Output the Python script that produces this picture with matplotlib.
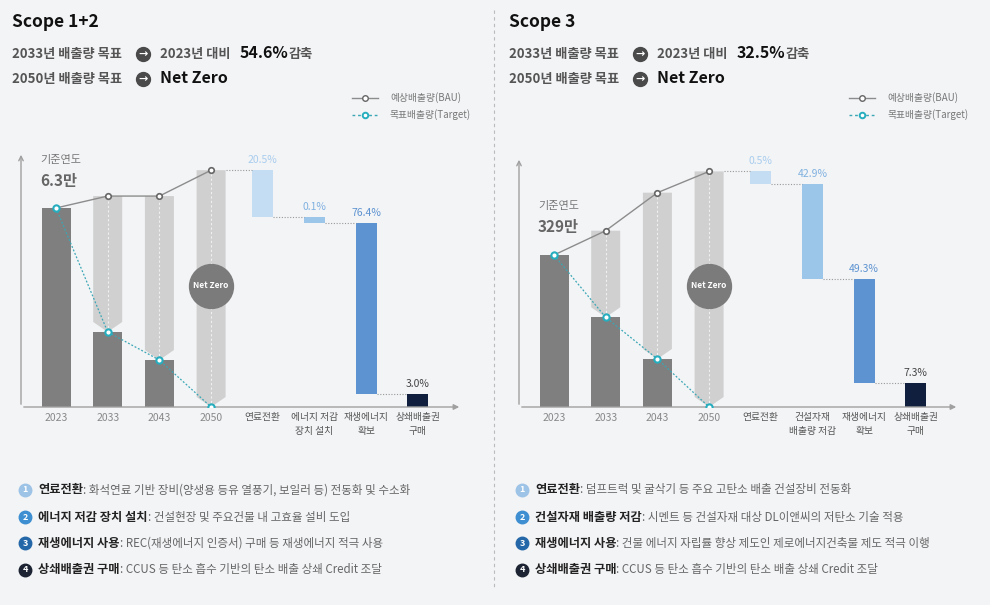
import matplotlib
matplotlib.use("Agg")
import matplotlib.pyplot as plt
from matplotlib.patches import Polygon, Rectangle
from matplotlib.lines import Line2D

FONT = ['Noto Sans CJK KR', 'DejaVu Sans']
plt.rcParams['font.family'] = FONT
BG = '#f3f4f6'

years = ['2023', '2033', '2043', '2050']
# panel 1 (index, base 2023 = 100)
p1_bau = [100, 106, 106, 119]
p1_target = [100, 37.7, 23.6, 0]
p1_steps = [95.5, 92.5, 6.5, 0]          # level after each reduction step
p1_step_labels = ['20.5%', '0.1%', '76.4%', '3.0%']
p1_cats = ['연료전환', '에너지 저감\n장치 설치', '재생에너지\n확보', '상쇄배출권\n구매']
# panel 2
p2_bau = [100, 116, 141, 155]
p2_target = [100, 59, 31.6, 0]
p2_steps = [147, 84, 16, 0]
p2_step_labels = ['0.5%', '42.9%', '49.3%', '7.3%']
p2_cats = ['연료전환', '건설자재\n배출량 저감', '재생에너지\n확보', '상쇄배출권\n구매']

step_colors = ['#c5ddf2', '#9cc5ea', '#5d93d1', '#0f1f3d']
label_colors = ['#a9cdee', '#7fb1e0', '#5d93d1', '#444444']

W, H = 990, 605
fig = plt.figure(figsize=(9.9, 6.05), dpi=100, facecolor=BG)

def fx(px): return px / W
def fy(py): return 1 - py / H

def panel(x0, x1, pxunit, ytop_px, base_px, x2023_px, bau, target, steps, slabels, cats, base_txt, base_y):
    ymax = (base_px - ytop_px) / pxunit
    sp = 51.7
    xl = (x0 - x2023_px) / sp
    xr = (x1 - x2023_px) / sp
    ax = fig.add_axes([fx(x0), fy(base_px), (x1 - x0) / W, (base_px - ytop_px) / H])
    ax.set_xlim(xl, xr); ax.set_ylim(0, ymax)
    ax.set_facecolor('none')
    ax.axis('off')
    # axes arrows
    ax.annotate('', xy=(xr, 0), xytext=(xl, 0), xycoords='data',
                arrowprops=dict(arrowstyle='-|>', color='#a0a0a0', lw=1, mutation_scale=8), annotation_clip=False)
    ax.annotate('', xy=(xl, ymax), xytext=(xl, 0),
                arrowprops=dict(arrowstyle='->', color='#a0a0a0', lw=1, mutation_scale=8), annotation_clip=False)
    bw = 29 / sp
    # dark target bars and light BAU bars with chevron bottoms
    for i in range(4):
        if i == 0:
            ax.add_patch(Rectangle((i - bw / 2, 0), bw, bau[0], color='#7f7f7f', lw=0))
            continue
        t = target[i]
        chev = 10 / pxunit
        ax.add_patch(Polygon([(i - bw / 2, bau[i]), (i + bw / 2, bau[i]), (i + bw / 2, t + chev),
                              (i, t), (i - bw / 2, t + chev)], closed=True, color='#d0d0d0', lw=0))
        ax.plot([i, i], [t, bau[i]], color='#f0f0f0', lw=0.8, ls=(0, (2, 2)))
        if t > 0:
            ax.add_patch(Rectangle((i - bw / 2, 0), bw, t, color='#7f7f7f', lw=0))
    # BAU and target lines
    xs = list(range(4))
    ax.plot(xs, bau, color='#8c8c8c', lw=1, marker='o', ms=4, mfc='white', mec='#666666', mew=1.2, zorder=5)
    ax.plot(xs, target, color='#3aa7b5', lw=0.9, ls=(0, (1.5, 1.5)), marker='o', ms=4.5,
            mfc='white', mec='#26aebf', mew=1.5, zorder=6)
    # Net Zero circle
    ax.scatter([3], [(base_px - 286) / pxunit], s=1000, color='#7b7b7b', zorder=7)
    ax.text(3, (base_px - 286) / pxunit, 'Net Zero', color='white', fontsize=6, fontweight='bold',
            ha='center', va='center', zorder=8)
    # waterfall
    wbw = 21 / sp
    prev = bau[3]
    prev_x = 3
    for k in range(4):
        x = 4 + k
        top, bot = prev, steps[k]
        ax.plot([prev_x + (bw / 2 if k == 0 else wbw / 2), x - wbw / 2], [top, top],
                color='#999999', lw=0.8, ls=(0, (1, 1.5)))
        ax.add_patch(Rectangle((x - wbw / 2, bot), wbw, top - bot, color=step_colors[k], lw=0))
        ax.text(x, top + 5 / pxunit, slabels[k], color=label_colors[k], fontsize=7.5, ha='center', va='bottom')
        prev = bot; prev_x = x
    for i, y in enumerate(years):
        ax.text(i, -6 / pxunit, y, color='#888888', fontsize=7.5, ha='center', va='top')
    for k, c in enumerate(cats):
        ax.text(4 + k, -5 / pxunit, c, color='#555555', fontsize=7, ha='center', va='top', linespacing=1.5)
    # base year label
    fig.text(fx(x0 + 19), fy(base_y), '기준연도', fontsize=8, color='#777777', va='center')
    fig.text(fx(x0 + 19), fy(base_y + 21), base_txt, fontsize=11, color='#666666', fontweight='bold', va='center')

panel(21, 462, 199 / 100, 152, 407, 56, p1_bau, p1_target, p1_steps, p1_step_labels, p1_cats, '6.3만', 160)
panel(519, 959, 152 / 100, 157, 407, 554, p2_bau, p2_target, p2_steps, p2_step_labels, p2_cats, '329만', 206)

# headers
def arrow_circle(px, py):
    fig.add_artist(Line2D([fx(px)], [fy(py)], marker='o', ms=10, color='#4a4a4a', transform=fig.transFigure))
    fig.text(fx(px), fy(py), '→', color='white', fontsize=8, fontweight='bold', ha='center', va='center',
             family='DejaVu Sans')

def header(ox, title, pct):
    fig.text(fx(ox + 12), fy(22), title, fontsize=12.5, fontweight='bold', color='#111111', va='center')
    fig.text(fx(ox + 12), fy(54), '2033년 배출량 목표', fontsize=9.5, fontweight='bold', color='#555555', va='center')
    arrow_circle(ox + 143, 54)
    fig.text(fx(ox + 160), fy(54), '2023년 대비', fontsize=9.5, fontweight='bold', color='#555555', va='center')
    fig.text(fx(ox + 240), fy(53), pct, fontsize=11.5, fontweight='bold', color='#111111', va='center')
    fig.text(fx(ox + 289), fy(54), '감축', fontsize=9.5, fontweight='bold', color='#555555', va='center')
    fig.text(fx(ox + 12), fy(79), '2050년 배출량 목표', fontsize=9.5, fontweight='bold', color='#555555', va='center')
    arrow_circle(ox + 143, 79)
    fig.text(fx(ox + 160), fy(78), 'Net Zero', fontsize=11.5, fontweight='bold', color='#111111', va='center')

def legend(ox):
    fig.add_artist(Line2D([fx(ox + 352), fx(ox + 378)], [fy(98)] * 2, color='#8c8c8c', lw=1,
                          transform=fig.transFigure))
    fig.add_artist(Line2D([fx(ox + 365)], [fy(98)], marker='o', ms=4, mfc='white', mec='#666666',
                          transform=fig.transFigure))
    fig.text(fx(ox + 390), fy(98), '예상배출량(BAU)', fontsize=7, color='#777777', va='center')
    fig.add_artist(Line2D([fx(ox + 352), fx(ox + 378)], [fy(115)] * 2, color='#3aa7b5', lw=1,
                          ls=(0, (2, 2)), transform=fig.transFigure))
    fig.add_artist(Line2D([fx(ox + 365)], [fy(115)], marker='o', ms=4, mfc='white', mec='#26aebf', mew=1.4,
                          transform=fig.transFigure))
    fig.text(fx(ox + 390), fy(115), '목표배출량(Target)', fontsize=7, color='#777777', va='center')

header(0, 'Scope 1+2', '54.6%')
header(497, 'Scope 3', '32.5%')
legend(0)
legend(497)

# divider
fig.add_artist(Line2D([fx(494)] * 2, [fy(10), fy(590)], color='#bbbbbb', lw=0.8, ls=(0, (3, 3)),
                      transform=fig.transFigure))

# bullets
bul_colors = ['#9dc3e6', '#3d8fd1', '#2467a8', '#1c2433']
left_items = [('연료전환', ': 화석연료 기반 장비(양생용 등유 열풍기, 보일러 등) 전동화 및 수소화'),
              ('에너지 저감 장치 설치', ': 건설현장 및 주요건물 내 고효율 설비 도입'),
              ('재생에너지 사용', ': REC(재생에너지 인증서) 구매 등 재생에너지 적극 사용'),
              ('상쇄배출권 구매', ': CCUS 등 탄소 흡수 기반의 탄소 배출 상쇄 Credit 조달')]
right_items = [('연료전환', ': 덤프트럭 및 굴삭기 등 주요 고탄소 배출 건설장비 전동화'),
               ('건설자재 배출량 저감', ': 시멘트 등 건설자재 대상 DL이앤씨의 저탄소 기술 적용'),
               ('재생에너지 사용', ': 건물 에너지 자립률 향상 제도인 제로에너지건축물 제도 적극 이행'),
               ('상쇄배출권 구매', ': CCUS 등 탄소 흡수 기반의 탄소 배출 상쇄 Credit 조달')]
fig.canvas.draw()
renderer = fig.canvas.get_renderer()
ys = [490, 517, 543, 570]
for ox, items in [(0, left_items), (497, right_items)]:
    for k, (lab, desc) in enumerate(items):
        y = ys[k]
        fig.add_artist(Line2D([fx(ox + 25)], [fy(y)], marker='o', ms=9, color=bul_colors[k],
                              transform=fig.transFigure))
        fig.text(fx(ox + 25), fy(y), str(k + 1), color='white', fontsize=6.5, fontweight='bold',
                 ha='center', va='center')
        t = fig.text(fx(ox + 38), fy(y), lab, fontsize=8.8, fontweight='bold', color='#222222', va='center')
        bb = t.get_window_extent(renderer)
        fig.text(bb.x1 / W, fy(y), desc, fontsize=8.3, color='#666666', va='center')

fig.savefig('out.png', dpi=100, facecolor=BG)
